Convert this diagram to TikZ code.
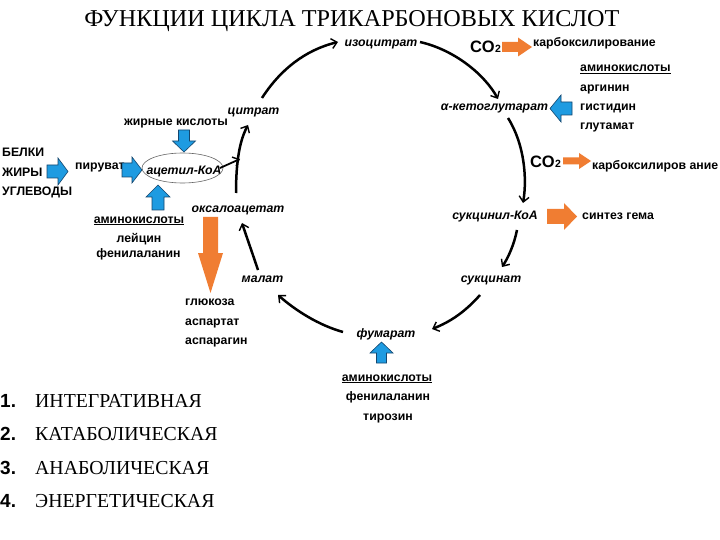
\documentclass[tikz,border=0pt]{standalone}
\usepackage{fontspec}
\setmainfont{Liberation Serif}
\newfontfamily\lsans{Liberation Sans}
\usetikzlibrary{arrows.meta}
\definecolor{bl}{RGB}{30,155,225}
\definecolor{blo}{RGB}{20,70,110}
\definecolor{orng}{RGB}{240,125,50}
% block arrow: style, x, y, angle, length, shaft half, head half, head length
\newcommand\blockarr[8]{%
  \draw[#1,shift={(#2,#3)},rotate=#4] (0,-#6) -- ({#5-#8},-#6) -- ({#5-#8},-#7) -- (#5,0)
    -- ({#5-#8},#7) -- ({#5-#8},#6) -- (0,#6) -- cycle;}
\tikzset{
  lab/.style={font=\lsans\bfseries\fontsize{12.3}{14}\selectfont, inner sep=0pt, anchor=base},
  met/.style={font=\lsans\bfseries\itshape\fontsize{12.3}{14}\selectfont, inner sep=0pt, anchor=base},
  cyc/.style={line width=2.5pt, -{Straight Barb[length=5.5pt,width=10pt,line width=1.4pt]}},
  bluearr/.style={fill=bl, draw=blo, line width=0.6pt},
  orarr/.style={fill=orng, draw=none},
  lst/.style={font=\fontsize{19.8}{22}\selectfont, inner sep=0pt, anchor=base west},
  num/.style={font=\lsans\bfseries\fontsize{19}{22}\selectfont, inner sep=0pt, anchor=base west},
}
\begin{document}
\begin{tikzpicture}[x=1pt,y=-1pt]
\useasboundingbox (0,0) rectangle (720,540);
\fill[white] (0,0) rectangle (720,540);
% title
\node[font=\fontsize{24.2}{27}\selectfont, inner sep=0pt, anchor=base] (title) at (352,27) {ФУНКЦИИ ЦИКЛА ТРИКАРБОНОВЫХ КИСЛОТ};
% metabolites
\node[met] (iso) at (381,47) {изоцитрат};
\node[met] (akg) at (494.5,111) {α-кетоглутарат};
\node[met] (scoa) at (495,220) {сукцинил-КоА};
\node[met] (succ) at (491,282) {сукцинат};
\node[met] (fum) at (386,337) {фумарат};
\node[met] (mal) at (262.5,282) {малат};
\node[met] (oaa) at (238,212) {оксалоацетат};
\node[met] (cit) at (253.5,115) {цитрат};
\node[met] (acoa) at (184,175) {ацетил-КоА};
\draw[black!60, line width=0.6pt] (182.5,168) ellipse (40.5 and 15);
% CO2 labels
\node[lab, anchor=base east, font=\lsans\bfseries\fontsize{16.5}{18}\selectfont] (co1) at (495,53) {CO};
\node[lab, anchor=base west, font=\lsans\bfseries\fontsize{10.5}{12}\selectfont] (co1n) at (co1.base east) {2};
\node[lab, anchor=base west] (carb1) at (533,47) {карбоксилирование};
\node[lab, anchor=base east, font=\lsans\bfseries\fontsize{16.5}{18}\selectfont] (co2) at (555,168) {CO};
\node[lab, anchor=base west, font=\lsans\bfseries\fontsize{10.5}{12}\selectfont] (co2n) at (co2.base east) {2};
\node[lab, anchor=base west] (carb2) at (592,170) {карбоксилиров ание};
% amino acids right
\node[lab, anchor=base west] (aa1) at (580,72) {\underline{аминокислоты}};
\node[lab, anchor=base west] (arg) at (580,92) {аргинин};
\node[lab, anchor=base west] (his) at (580,111) {гистидин};
\node[lab, anchor=base west] (glu) at (580,130) {глутамат};
\node[lab, anchor=base west] (heme) at (582,219) {синтез гема};
% bottom amino acids
\node[lab] (aa2) at (387,381) {\underline{аминокислоты}};
\node[lab] (phe2) at (388,400) {фенилаланин};
\node[lab] (tyr) at (388,420) {тирозин};
% gluc
\node[lab, anchor=base west] (glc) at (185,305) {глюкоза};
\node[lab, anchor=base west] (asp) at (185,325) {аспартат};
\node[lab, anchor=base west] (asn) at (185,344) {аспарагин};
% left
\node[lab] (fa) at (176,126) {жирные кислоты};
\node[lab, anchor=base west] (pyr) at (75,170) {пируват};
\node[lab, anchor=base west] (prot) at (2,157) {БЕЛКИ};
\node[lab, anchor=base west] (fat) at (2,177) {ЖИРЫ};
\node[lab, anchor=base west] (carb) at (2,196) {УГЛЕВОДЫ};
\node[lab] (aa3) at (139,223) {\underline{аминокислоты}};
\node[lab] (leu) at (139,243) {лейцин};
\node[lab] (phe3) at (138.5,257) {фенилаланин};
% block arrows
\blockarr{bluearr}{47}{171.5}{0}{21}{6.5}{13.5}{10}
\blockarr{bluearr}{122}{170}{0}{20}{7}{13}{10}
\blockarr{bluearr}{184}{130}{-90}{22}{5.5}{11.5}{11}
\blockarr{bluearr}{158}{210}{90}{25}{6}{12}{12}
\blockarr{bluearr}{572}{108.5}{180}{22}{6.5}{13.5}{11}
\blockarr{bluearr}{381.5}{363}{90}{21}{5}{11.5}{11}
\blockarr{orarr}{210.5}{217}{-90}{76}{7.5}{12.5}{40}
\blockarr{orarr}{502}{47}{0}{30}{5}{9.5}{14}
\blockarr{orarr}{563}{161}{0}{28}{3.5}{8}{12}
\blockarr{orarr}{547}{216.5}{0}{30}{7.5}{13.5}{13}
% cycle connectors
\coordinate (c1s) at (262,98);   \coordinate (c1e) at (338,42);
\coordinate (c2s) at (420,42);   \coordinate (c2e) at (498,99);
\coordinate (c3s) at (508,118);  \coordinate (c3e) at (523,203);
\coordinate (c4s) at (517,230);  \coordinate (c4e) at (502,267);
\coordinate (c5s) at (480,295);  \coordinate (c5e) at (432,329);
\coordinate (c6s) at (343,332);  \coordinate (c6e) at (278,295);
\coordinate (c7s) at (258,270);  \coordinate (c7e) at (242,223);
\coordinate (c8s) at (236,193);  \coordinate (c8e) at (248,125);
\coordinate (c9s) at (220,168);  \coordinate (c9e) at (240,159);
\draw[cyc] (c1s) .. controls (280,70) and (305,50) .. (c1e);
\draw[cyc] (c2s) .. controls (455,50) and (485,75) .. (c2e);
\draw[cyc] (c3s) .. controls (525,145) and (527,180) .. (c3e);
\draw[cyc] (c4s) .. controls (514,245) and (508,258) .. (c4e);
\draw[cyc] (c5s) .. controls (465,312) and (450,322) .. (c5e);
\draw[cyc] (c6s) .. controls (318,325) and (295,310) .. (c6e);
\draw[cyc] (c7s) .. controls (253,255) and (247,238) .. (c7e);
\draw[cyc] (c8s) .. controls (236,160) and (240,140) .. (c8e);
\draw[cyc, line width=1.8pt] (c9s) -- (c9e);
% list
\node[num] (n1) at (0,407) {1.};
\node[lst] (l1) at (35,407) {ИНТЕГРАТИВНАЯ};
\node[num] (n2) at (0,440.5) {2.};
\node[lst] (l2) at (35,440.5) {КАТАБОЛИЧЕСКАЯ};
\node[num] (n3) at (0,474) {3.};
\node[lst] (l3) at (35,474) {АНАБОЛИЧЕСКАЯ};
\node[num] (n4) at (0,507) {4.};
\node[lst] (l4) at (35,507) {ЭНЕРГЕТИЧЕСКАЯ};
\end{tikzpicture}
\end{document}
